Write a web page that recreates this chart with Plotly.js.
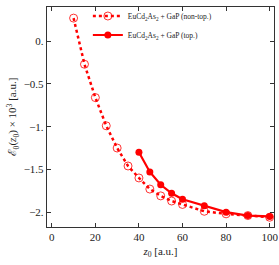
<!DOCTYPE html>
<html><head><meta charset="utf-8">
<script src="https://cdn.plot.ly/plotly-3.0.1.min.js"></script>
<style>html,body{margin:0;padding:0;background:#fff}#chart{width:279px;height:265px}</style>
</head><body><div id="chart"></div>
<script>
const zNonTop = [10, 15, 20, 25, 30, 35, 40, 45, 50, 55, 60, 70, 80, 90, 100];
const eNonTop = [0.27, -0.27, -0.66, -0.99, -1.25, -1.46, -1.60, -1.73, -1.81, -1.87, -1.91, -1.99, -2.02, -2.04, -2.06];
const zTop = [40, 45, 50, 55, 60, 70, 80, 90, 100];
const eTop = [-1.30, -1.53, -1.68, -1.78, -1.85, -1.925, -2.00, -2.04, -2.05];
const xTicks = [0, 20, 40, 60, 80, 100];
const yTicks = [0, -0.5, -1, -1.5, -2];
const yTickText = ['0.', '\u22120.5', '\u22121.', '\u22121.5', '\u22122.'];
const nameNonTop = 'EuCd<sub>2</sub>As<sub>2</sub> + GaP (non-top.)';
const nameTop = 'EuCd<sub>2</sub>As<sub>2</sub> + GaP (top.)';

const red = '#ff0000';
const traces = [
  {x: zNonTop, y: eNonTop, name: nameNonTop, type: 'scatter', mode: 'lines+markers',
   line: {color: red, width: 2.5, dash: 'dot'},
   marker: {symbol: 'circle-open', size: 8, color: red, line: {width: 0.8, color: red}}},
  {x: zTop, y: eTop, name: nameTop, type: 'scatter', mode: 'lines+markers',
   line: {color: red, width: 2.2},
   marker: {symbol: 'circle', size: 7, color: red}}
];
const axFont = {family: 'Liberation Serif, DejaVu Serif, serif', size: 11, color: '#222'};
const layout = {
  width: 279, height: 265,
  margin: {l: 47, r: 5, t: 1, b: 38},
  paper_bgcolor: '#fff', plot_bgcolor: '#fff',
  showlegend: true,
  legend: {x: 0.18, y: 1.025, xanchor: 'left', yanchor: 'top', bgcolor: 'rgba(0,0,0,0)',
           font: {family: 'Liberation Serif, DejaVu Serif, serif', size: 7.5, color: '#222'},
           tracegroupgap: 0, itemwidth: 30},
  xaxis: {range: [-2.2, 102], tickvals: xTicks, ticktext: xTicks.map(String),
          ticks: 'inside', ticklen: 4, tickcolor: '#333', showline: true, linecolor: '#333', linewidth: 1.2,
          mirror: 'ticks', showgrid: false, zeroline: false, tickfont: axFont,
          title: {text: '<i>z</i><sub>0</sub> [a.u.]', font: axFont, standoff: 4}},
  yaxis: {range: [-2.174, 0.40], tickvals: yTicks, ticktext: yTickText,
          ticks: 'inside', ticklen: 4, tickcolor: '#333', showline: true, linecolor: '#333', linewidth: 1.2,
          mirror: 'ticks', showgrid: false, zeroline: false, tickfont: axFont,
          title: {text: '\u2130<sub>0</sub>(<i>z</i><sub>0</sub>) \u00d7 10<sup>3</sup> [a.u.]', font: axFont, standoff: 4}}
};
Plotly.newPlot('chart', traces, layout, {displayModeBar: false, staticPlot: true});
</script></body></html>
